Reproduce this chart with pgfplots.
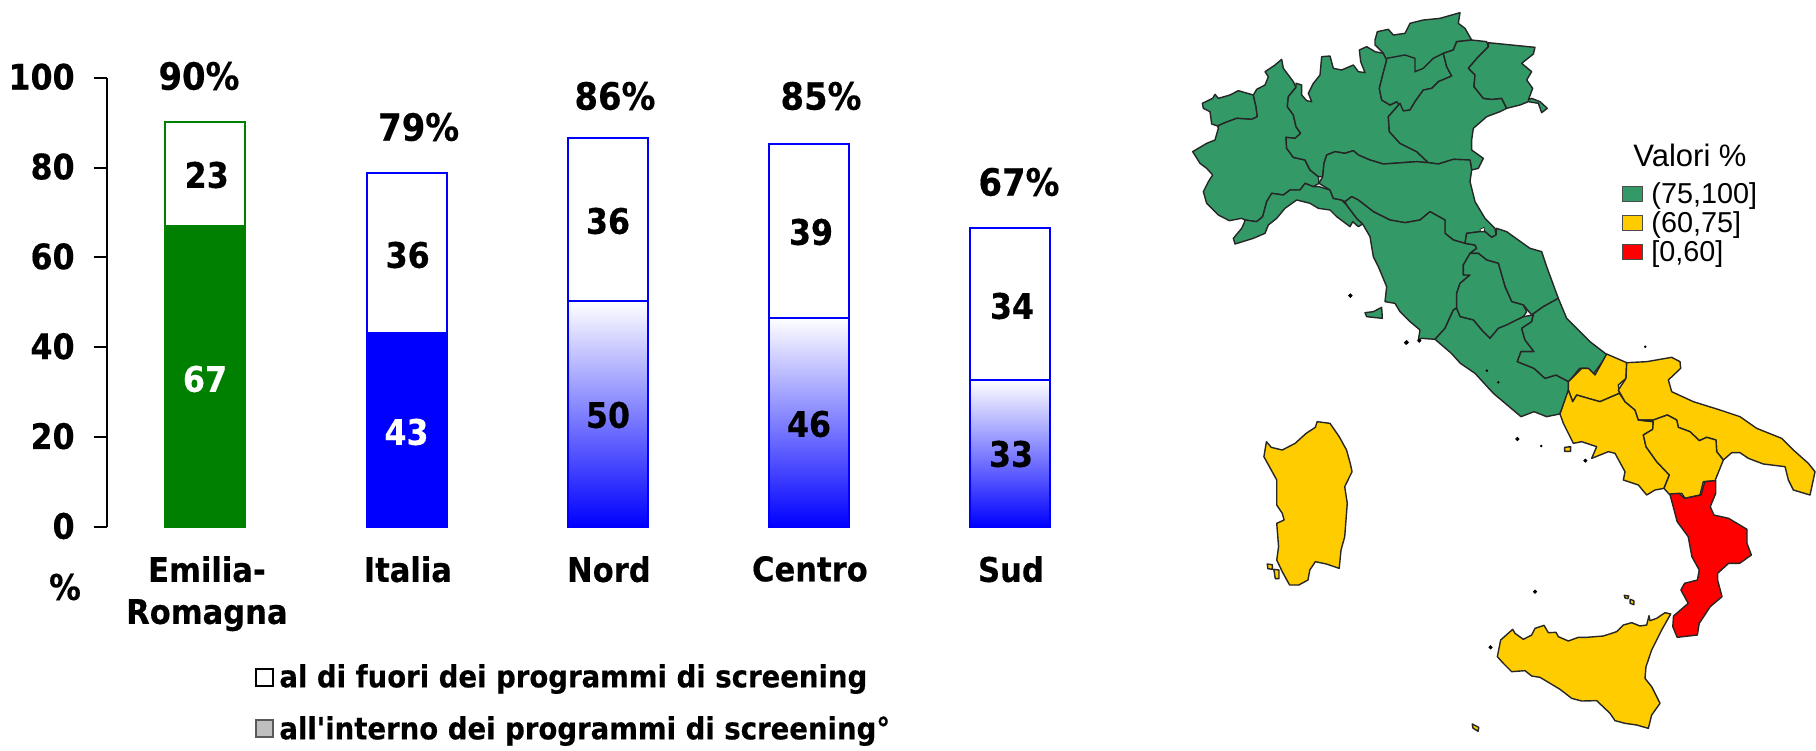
\documentclass[border=0pt]{standalone}
\usepackage{pgfplots}
\pgfplotsset{compat=1.18}
\usepackage{fontspec}
\setmainfont{Liberation Sans}
\newfontfamily\vb{DejaVu Sans Condensed Bold}[FakeBold=0.35]
\newcommand{\bfs}{\vb\fontsize{17.6}{21}\selectfont}
\newcommand{\pfs}{\vb\fontsize{18.8}{21}\selectfont}
\newcommand{\xfs}{\vb\fontsize{17}{21}\selectfont}
\newcommand{\lfs}{\vb\fontsize{15.3}{19}\selectfont}
\definecolor{mg}{HTML}{339966}
\definecolor{my}{HTML}{FFCC00}
\definecolor{mr}{HTML}{FF0000}
\definecolor{eg}{HTML}{008000}
\pgfplotsset{
 /pgfplots/table/A/.style={row sep=crcr,header=false,x expr=1170+\thisrowno{0}/3,y expr=\thisrowno{1}/3},
 /pgfplots/table/B/.style={row sep=crcr,header=false,x expr=1240+\thisrowno{0}/2.722,y expr=340+\thisrowno{1}/3},
 /pgfplots/table/C/.style={row sep=crcr,header=false,x expr=1480+\thisrowno{0}/3,y expr=600+\thisrowno{1}/3},
 /pgfplots/table/D/.style={row sep=crcr,header=false,x expr=1560+\thisrowno{0}/3,y expr=340+\thisrowno{1}/3},
 reg/.style={draw=black!85,line width=0.7pt,line join=round},
}
\begin{document}
\begin{tikzpicture}[x=1pt,y=1pt]
\useasboundingbox (0,0) rectangle (908,375);
% bar chart
\begin{axis}[at={(53.35pt,111.5pt)},anchor=south west,scale only axis,
 width=496.65pt,height=224.65pt,xmin=-0.4915,xmax=4.45,ymin=0,ymax=100,
 axis x line*=bottom,axis y line*=left,
 x axis line style={draw=none},y axis line style={black,line width=1pt,-},
 xtick={0,1,2,3,4},xticklabels={{Emilia-\\Romagna},Italia,Nord,Centro,Sud},
 x tick style={draw=none},major tick length=6.5pt,
 ytick={0,20,40,60,80,100},
 y tick style={black,line width=1pt},
 tick align=outside,
 /pgf/number format/assume math mode=true,
 x tick label style={font=\xfs,align=center,yshift=-4.5pt,xshift=0.7pt},
 y tick label style={font=\bfs,xshift=-6pt,yshift=0.5pt},
 clip=false]
% totals (within and outside the screening programmes)
\addplot[ybar,bar width=40pt,bar shift=0pt,draw=eg,fill=white,line width=1pt] coordinates {(0,90.2)};
\addplot[ybar,bar width=40pt,bar shift=0pt,draw=blue,fill=white,line width=1pt] coordinates {(1,78.8)(2,86.5)(3,85.3)(4,66.6)};
% within the programmes
\addplot[ybar,bar width=40pt,bar shift=0pt,draw=eg,fill=eg,line width=0.4pt] coordinates {(0,67.2)};
\addplot[ybar,bar width=40pt,bar shift=0pt,draw=blue,fill=blue,line width=0.4pt] coordinates {(1,43.3)};
\addplot[ybar,bar width=40pt,bar shift=0pt,draw=blue,bottom color=blue,top color=white,line width=1pt] coordinates {(2,50.4)};
\addplot[ybar,bar width=40pt,bar shift=0pt,draw=blue,bottom color=blue,top color=white,line width=1pt] coordinates {(3,46.6)};
\addplot[ybar,bar width=40pt,bar shift=0pt,draw=blue,bottom color=blue,top color=white,line width=1pt] coordinates {(4,32.8)};
\end{axis}
% overlay in picture pixels
\begin{axis}[at={(0pt,0pt)},anchor=south west,scale only axis,width=908pt,height=375pt,
 xmin=0,xmax=1816,ymin=0,ymax=750,y dir=reverse,hide axis,clip=false]
% Valle d'Aosta
\addplot[reg,fill=mg] table[A]{97 310\\128 295\\135 283\\145 295\\180 285\\205 272\\250 285\\258 320\\262 350\\245 358\\200 355\\165 368\\143 378\\125 372\\120 335\\100 325\\} -- cycle;
% Piemonte
\addplot[reg,fill=mg] table[A]{335 178\\340 205\\370 245\\378 262\\355 290\\352 320\\370 345\\378 380\\392 400\\375 415\\348 412\\350 445\\370 472\\405 480\\420 510\\445 530\\447 550\\430 560\\405 550\\390 570\\360 570\\340 585\\305 580\\290 605\\278 650\\260 665\\225 660\\215 655\\178 662\\145 645\\110 610\\100 575\\115 545\\128 525\\110 505\\90 490\\68 455\\110 430\\135 420\\145 385\\143 378\\165 368\\200 355\\245 358\\262 350\\258 320\\250 285\\260 268\\285 255\\295 230\\285 215\\315 195\\} -- cycle;
% Liguria
\addplot[reg,fill=mg] table[A]{225 660\\260 665\\278 650\\290 605\\305 580\\340 585\\360 570\\390 570\\405 550\\430 560\\447 560\\480 570\\490 595\\515 600\\530 615\\560 655\\578 672\\565 680\\548 665\\540 680\\500 650\\480 630\\445 625\\420 610\\380 600\\345 625\\320 655\\295 675\\285 700\\250 715\\195 732\\190 715\\215 685\\222 670\\} -- cycle;
% Lombardia
\addplot[reg,fill=mg] table[A]{378 250\\395 255\\395 285\\410 302\\425 305\\415 280\\430 250\\450 225\\455 170\\480 168\\490 205\\515 210\\550 195\\565 215\\585 218\\572 185\\568 150\\590 140\\615 155\\640 160\\650 180\\638 225\\628 265\\635 300\\660 315\\680 305\\690 310\\655 350\\658 395\\690 430\\740 455\\775 488\\740 485\\670 490\\640 492\\600 480\\565 465\\550 452\\525 460\\495 455\\470 465\\462 490\\458 530\\445 530\\420 510\\405 480\\370 472\\350 445\\348 412\\375 415\\392 400\\378 380\\370 345\\352 320\\355 290\\378 262\\} -- cycle;
% Trentino-Alto Adige
\addplot[reg,fill=mg] table[A]{615 120\\622 95\\655 88\\670 105\\705 100\\720 70\\760 60\\810 55\\870 38\\865 70\\885 85\\905 120\\860 125\\850 150\\820 160\\830 200\\845 228\\805 245\\785 265\\760 270\\735 305\\720 330\\700 333\\680 305\\660 315\\635 300\\628 265\\638 225\\650 180\\640 160\\630 150\\615 135\\} -- cycle;
\addplot[draw=black!85,line width=0.7pt] table[A]{650 175\\705 165\\735 175\\735 215\\760 205\\790 175\\820 160\\};
% Veneto
\addplot[reg,fill=mg] table[A]{905 120\\950 125\\955 140\\925 170\\895 205\\915 225\\912 260\\940 295\\965 298\\995 295\\1010 325\\990 335\\950 350\\910 385\\905 420\\905 450\\940 475\\925 505\\905 510\\900 480\\850 478\\805 492\\775 488\\740 455\\690 430\\658 395\\655 350\\690 310\\700 333\\720 330\\735 305\\760 270\\785 265\\805 245\\845 228\\830 200\\820 160\\850 150\\860 125\\} -- cycle;
% Friuli
\addplot[reg,fill=mg] table[A]{955 128\\1095 142\\1090 162\\1055 190\\1085 215\\1070 240\\1088 265\\1075 300\\1085 295\\1110 305\\1132 325\\1115 338\\1105 310\\1075 305\\1050 315\\1010 325\\995 295\\965 298\\940 295\\912 260\\915 225\\895 205\\925 170\\955 140\\} -- cycle;
% Emilia-Romagna
\addplot[reg,fill=mg] table[A]{447 550\\458 530\\462 490\\470 465\\495 455\\525 460\\550 452\\565 465\\600 480\\640 492\\670 490\\740 485\\775 488\\805 492\\850 478\\900 480\\905 510\\900 545\\915 605\\945 655\\975 685\\978 705\\965 712\\945 695\\930 695\\890 700\\885 730\\850 720\\825 700\\825 660\\780 635\\750 660\\705 668\\660 660\\610 635\\565 600\\545 590\\525 605\\515 600\\490 595\\480 570\\} -- cycle;
\addplot[draw=black,fill=white,line width=0.3pt] table[A]{930 688\\942 682\\944 696\\932 697\\} -- cycle;
% Toscana
\addplot[reg,fill=mg] table[A]{525 605\\545 590\\565 600\\610 635\\660 660\\705 668\\750 660\\780 635\\825 660\\825 700\\850 720\\885 730\\915 735\\920 745\\900 760\\880 795\\880 825\\900 825\\870 850\\860 880\\865 920\\850 930\\825 985\\795 1018\\755 1015\\745 1020\\750 990\\720 965\\690 935\\675 910\\645 905\\650 860\\625 800\\610 770\\600 710\\578 672\\560 655\\530 615\\} -- cycle;
% Marche
\addplot[reg,fill=mg] table[A]{890 700\\930 695\\945 695\\965 712\\978 705\\980 685\\1010 695\\1080 745\\1115 755\\1130 800\\1165 895\\1120 920\\1085 945\\1060 915\\1025 905\\1005 860\\985 790\\950 780\\925 760\\900 760\\920 745\\915 735\\885 730\\} -- cycle;
% Umbria
\addplot[reg,fill=mg] table[A]{900 760\\925 760\\950 780\\985 790\\1005 860\\1025 905\\1060 915\\1070 935\\1060 950\\1010 975\\985 985\\960 1015\\935 990\\910 960\\870 950\\860 925\\860 880\\870 850\\900 825\\880 825\\880 795\\} -- cycle;
% Lazio
\addplot[reg,fill=mg] table[A]{795 1018\\825 985\\850 930\\860 925\\870 950\\910 960\\935 990\\960 1015\\985 985\\1010 975\\1060 950\\1090 945\\1085 965\\1055 985\\1065 1020\\1092 1055\\1053 1055\\1042 1085\\1092 1105\\1125 1135\\1158 1125\\1196 1145\\1196 1185\\1169 1242\\1130 1250\\1092 1235\\1053 1250\\970 1180\\915 1120\\871 1090\\844 1060\\} -- cycle;
% Abruzzo
\addplot[reg,fill=mg] table[A]{1085 945\\1120 920\\1165 895\\1190 955\\1210 975\\1260 1025\\1312 1065\\1268 1125\\1251 1105\\1229 1105\\1196 1145\\1158 1125\\1125 1135\\1092 1105\\1042 1085\\1053 1055\\1092 1055\\1065 1020\\1055 985\\1085 965\\1090 945\\} -- cycle;
% Molise
\addplot[reg,fill=my] table[D]{140 42\\200 68\\198 115\\175 135\\178 160\\150 172\\120 185\\95 178\\50 165\\38 185\\25 150\\25 125\\65 85\\85 85\\105 105\\} -- cycle;
% Campania
\addplot[reg,fill=my] table[D]{0 222\\25 150\\38 185\\50 165\\95 178\\120 185\\178 160\\195 185\\225 210\\235 240\\280 245\\278 268\\250 285\\258 320\\290 365\\328 405\\312 445\\285 450\\260 465\\235 435\\190 420\\195 395\\165 340\\145 335\\95 355\\110 320\\65 305\\40 310\\10 250\\} -- cycle;
% Puglia
\addplot[reg,fill=my] table[D]{200 68\\260 65\\335 52\\360 65\\362 85\\325 120\\335 155\\400 185\\480 210\\540 230\\590 265\\665 295\\700 330\\745 370\\765 395\\750 465\\700 450\\685 420\\675 380\\610 372\\565 355\\540 338\\515 338\\490 360\\470 335\\468 300\\440 292\\418 302\\390 275\\355 262\\350 240\\322 225\\280 240\\235 240\\225 210\\195 185\\175 150\\198 115\\} -- cycle;
% Basilicata
\addplot[reg,fill=my] table[D]{235 240\\280 240\\322 225\\350 240\\355 262\\390 275\\418 302\\440 292\\468 300\\470 335\\490 360\\465 422\\430 425\\420 465\\375 475\\365 460\\330 465\\312 445\\328 405\\290 365\\258 320\\250 285\\278 268\\280 245\\} -- cycle;
% Calabria
\addplot[reg,fill=mr] table[B]{1265 425\\1295 422\\1295 460\\1280 500\\1290 525\\1330 535\\1380 568\\1380 610\\1392 645\\1360 670\\1330 670\\1300 700\\1300 720\\1312 770\\1280 800\\1250 850\\1245 885\\1190 892\\1178 860\\1180 828\\1220 790\\1200 750\\1210 730\\1245 720\\1250 690\\1230 650\\1220 590\\1190 545\\1170 462\\1195 460\\1210 475\\1255 465\\} -- cycle;
% Sicilia
\addplot[reg,fill=my] table[C]{572 42\\555 38\\530 55\\510 62\\507 47\\500 75\\480 78\\455 68\\430 75\\410 95\\370 108\\320 112\\295 112\\265 123\\235 110\\228 97\\205 98\\192 76\\165 85\\155 105\\130 118\\105 100\\98 88\\62 120\\52 170\\70 190\\95 215\\135 212\\155 228\\180 232\\240 268\\275 295\\305 303\\350 302\\390 340\\405 362\\435 370\\470 375\\505 385\\515 345\\540 310\\530 290\\515 260\\495 235\\498 200\\515 150\\545 90\\} -- cycle;
% Sardegna
\addplot[reg,fill=my] table[B]{210 245\\245 250\\270 290\\290 330\\300 370\\305 395\\285 440\\292 490\\285 590\\275 630\\270 685\\235 672\\205 665\\190 690\\185 720\\160 735\\135 735\\115 695\\100 660\\105 620\\100 550\\120 540\\115 520\\100 495\\100 420\\80 380\\65 350\\72 305\\85 322\\115 330\\150 310\\180 280\\205 262\\} -- cycle;
% small islands
\addplot[reg,fill=mg] table[A]{585 938\\610 935\\635 922\\637 955\\590 950\\} -- cycle;
\addplot[reg,fill=my] table[D]{14 322\\32 320\\32 334\\14 334\\} -- cycle;
\addplot[reg,fill=my] table[B]{1046 766\\1058 768\\1056 776\\1048 774\\} -- cycle;
\addplot[reg,fill=my] table[B]{1062 778\\1072 782\\1072 794\\1062 790\\} -- cycle;
\addplot[reg,fill=my] table[B]{632 1152\\650 1162\\648 1174\\634 1164\\} -- cycle;
\addplot[reg,fill=my] table[B]{92 688\\106 690\\106 716\\96 716\\} -- cycle;
\addplot[reg,fill=my] table[B]{74 672\\88 674\\88 688\\76 686\\} -- cycle;
\addplot[only marks,mark=*,mark size=0.9pt,black] table[A]{541 887\\710 1027\\};
\addplot[only marks,mark=*,mark size=0.8pt,black] table[B]{755 297\\940 362\\803 755\\682 922\\452 8\\488 2\\};
\addplot[only marks,mark=*,mark size=0.4pt,black] table[B]{820 318\\672 92\\703 127\\1103 20\\};
% legend of the map
\addplot[draw=black!70,fill=mg,line width=0.5pt] coordinates {(1622,186)(1642,186)(1642,201)(1622,201)} -- cycle;
\addplot[draw=black!70,fill=my,line width=0.5pt] coordinates {(1622,215)(1642,215)(1642,230)(1622,230)} -- cycle;
\addplot[draw=black!70,fill=mr,line width=0.5pt] coordinates {(1622,244)(1642,244)(1642,259)(1622,259)} -- cycle;
\node[font=\fontsize{15.5}{18}\selectfont] at (axis cs:1690,155) {Valori \%};
\node[anchor=west,inner sep=0pt,font=\fontsize{14.4}{17}\selectfont] at (axis cs:1651,196) {(75,100]};
\node[anchor=west,inner sep=0pt,font=\fontsize{14.4}{17}\selectfont] at (axis cs:1651,225) {(60,75]};
\node[anchor=west,inner sep=0pt,font=\fontsize{14.4}{17}\selectfont] at (axis cs:1651,254) {[0,60]};
% bar legend
\addplot[draw=black,fill=white,line width=1pt] coordinates {(256,669)(273,669)(273,686)(256,686)} -- cycle;
\addplot[draw=black!65,fill=black!25,line width=1pt] coordinates {(256,720)(273,720)(273,737)(256,737)} -- cycle;
\node[anchor=west,inner sep=0pt,font=\lfs] at (axis cs:279,679) {al di fuori dei programmi di screening};
\node[anchor=west,inner sep=0pt,font=\lfs] at (axis cs:279,731) {all'interno dei programmi di screening°};
% labels
\node[font=\pfs] at (axis cs:199,76) {90\%};
\node[font=\pfs] at (axis cs:418.7,127) {79\%};
\node[font=\pfs] at (axis cs:615,96) {86\%};
\node[font=\pfs] at (axis cs:821,96) {85\%};
\node[font=\pfs] at (axis cs:1019,182) {67\%};
\node[font=\bfs] at (axis cs:206.7,175) {23};
\node[font=\bfs] at (axis cs:407.7,255) {36};
\node[font=\bfs] at (axis cs:608,221) {36};
\node[font=\bfs] at (axis cs:811,232) {39};
\node[font=\bfs] at (axis cs:1012,306) {34};
\node[font=\bfs,text=white] at (axis cs:205,379) {67};
\node[font=\bfs,text=white] at (axis cs:406.5,432) {43};
\node[font=\bfs] at (axis cs:608,415) {50};
\node[font=\bfs] at (axis cs:809,424) {46};
\node[font=\bfs] at (axis cs:1011,454) {33};
\node[font=\bfs] at (axis cs:65,587) {\%};
\end{axis}
\end{tikzpicture}
\end{document}
